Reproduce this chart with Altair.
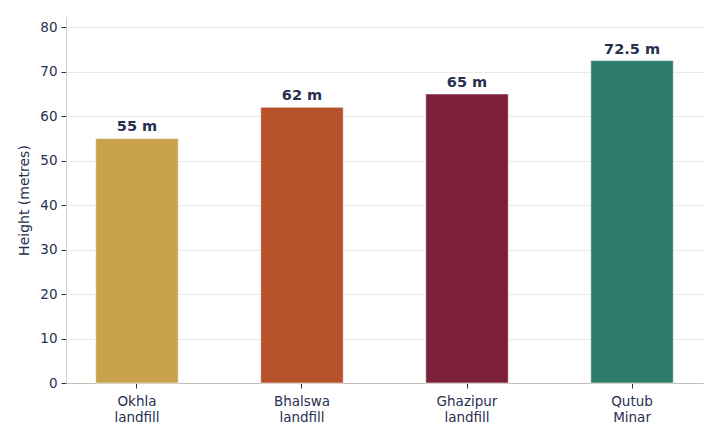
import altair as alt
import pandas as pd

sites = ["Okhla landfill", "Bhalswa landfill", "Ghazipur landfill", "Qutub Minar"]
heights = [55, 62, 65, 72.5]
labels = ["55 m", "62 m", "65 m", "72.5 m"]
colors = ["#C9A24D", "#B5522B", "#7B1F3A", "#2E7D6C"]

df = pd.DataFrame({"site": sites, "height": heights, "label": labels})

navy = "#27304f"

x = alt.X("site:N", sort=sites, title=None,
          scale=alt.Scale(paddingInner=0.5, paddingOuter=0.18),
          axis=alt.Axis(labelAngle=0, labelExpr="split(datum.label, ' ')",
                        labelFontSize=13.5, labelColor=navy, labelFont="DejaVu Sans",
                        labelPadding=6, labelLineHeight=16,
                        domainColor="#c9c0b4", tickColor=navy, tickSize=5, grid=False))
y = alt.Y("height:Q", title="Height (metres)",
          scale=alt.Scale(domain=[0, 82.3], nice=False),
          axis=alt.Axis(values=[0, 10, 20, 30, 40, 50, 60, 70, 80],
                        labelFontSize=13.5, labelColor=navy, labelFont="DejaVu Sans",
                        titleFontSize=14, titleColor=navy, titleFont="DejaVu Sans",
                        titleFontWeight="normal", titlePadding=8,
                        domainColor="#d9d2c4", tickColor=navy, tickSize=5,
                        gridColor="#ece9e2", labelPadding=4))

bars = alt.Chart(df).mark_bar(stroke="white", strokeWidth=0.8, strokeOpacity=0.7).encode(
    x=x, y=y,
    color=alt.Color("site:N", sort=sites, scale=alt.Scale(domain=sites, range=colors), legend=None),
)
text = alt.Chart(df).mark_text(baseline="bottom", dy=-4, fontSize=14.5, fontWeight="bold",
                               font="DejaVu Sans", color=navy).encode(
    x=alt.X("site:N", sort=sites), y="height:Q", text="label:N")

chart = (bars + text).properties(
    width=637, height=366,
    background="white",
    autosize=alt.AutoSizeParams(type="none"),
    padding={"left": 58, "top": 9, "right": 8, "bottom": 40},
).configure_view(stroke="transparent")

chart.save("out.html", embed_options={"renderer": "svg", "actions": False})
